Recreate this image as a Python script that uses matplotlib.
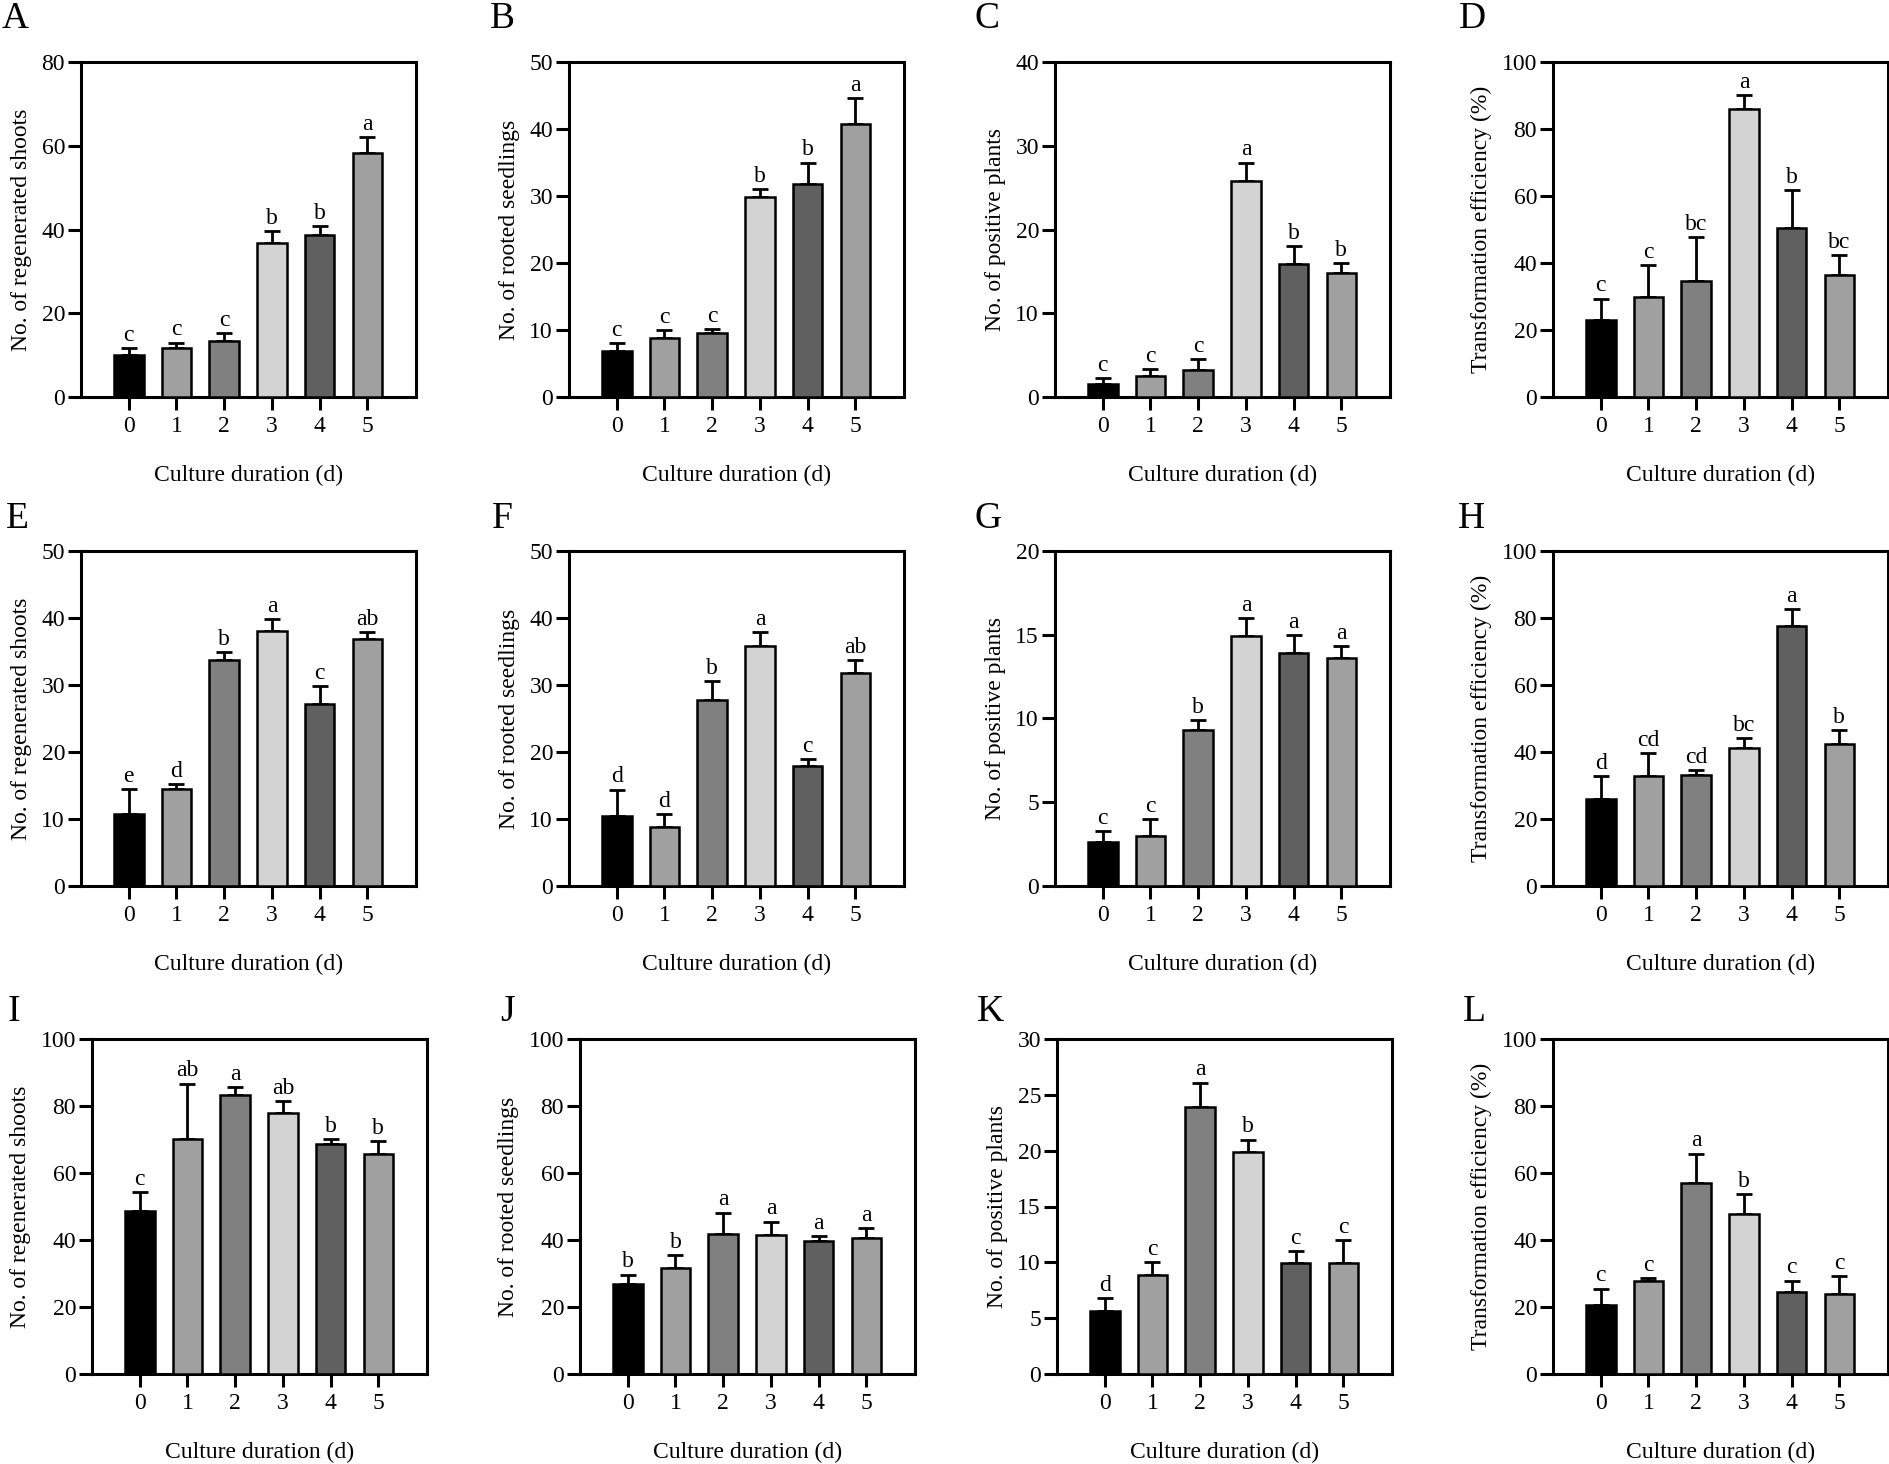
import matplotlib
matplotlib.use("Agg")
import matplotlib.pyplot as plt

# -------------------- figure geometry (pixels of the target image)
W, H = 1889, 1464
DPI = 100

DAYS = [0, 1, 2, 3, 4, 5]
BAR_COLORS = ["#000000", "#a0a0a0", "#808080", "#d3d3d3", "#606060", "#a0a0a0"]
XLABEL = "Culture duration (d)"

# -------------------- data (mean, SD, significance letters)
# row 1
shoots_A = [10.0, 11.8, 13.4, 36.7, 38.7, 58.3]
shoots_A_sd = [1.8, 1.2, 1.9, 3.0, 2.2, 3.8]
shoots_A_sig = ["c", "c", "c", "b", "b", "a"]

rooted_B = [6.9, 8.8, 9.6, 29.8, 31.8, 40.8]
rooted_B_sd = [1.1, 1.2, 0.6, 1.2, 3.2, 3.8]
rooted_B_sig = ["c", "c", "c", "b", "b", "a"]

positive_C = [1.5, 2.5, 3.2, 25.8, 15.9, 14.8]
positive_C_sd = [0.8, 0.8, 1.3, 2.2, 2.1, 1.2]
positive_C_sig = ["c", "c", "c", "a", "b", "b"]

eff_D = [23.1, 30.0, 34.5, 86.1, 50.3, 36.5]
eff_D_sd = [6.3, 9.3, 13.3, 4.0, 11.5, 5.8]
eff_D_sig = ["c", "c", "bc", "a", "b", "bc"]

# row 2
shoots_E = [10.8, 14.5, 33.8, 38.1, 27.1, 36.8]
shoots_E_sd = [3.7, 0.7, 1.1, 1.8, 2.7, 1.1]
shoots_E_sig = ["e", "d", "b", "a", "c", "ab"]

rooted_F = [10.5, 8.8, 27.8, 35.8, 17.9, 31.8]
rooted_F_sd = [3.9, 1.9, 2.8, 2.1, 1.1, 1.9]
rooted_F_sig = ["d", "d", "b", "a", "c", "ab"]

positive_G = [2.6, 3.0, 9.3, 14.95, 13.9, 13.6]
positive_G_sd = [0.66, 1.0, 0.63, 1.05, 1.1, 0.7]
positive_G_sig = ["c", "c", "b", "a", "a", "a"]

eff_H = [25.9, 32.8, 33.2, 41.3, 77.6, 42.3]
eff_H_sd = [6.9, 6.9, 1.4, 3.0, 5.2, 4.2]
eff_H_sig = ["d", "cd", "cd", "bc", "a", "b"]

# row 3
shoots_I = [48.7, 70.1, 83.4, 77.8, 68.6, 65.6]
shoots_I_sd = [5.5, 16.6, 2.3, 3.8, 1.5, 4.0]
shoots_I_sig = ["c", "ab", "a", "ab", "b", "b"]

rooted_J = [27.0, 31.5, 41.9, 41.5, 39.7, 40.5]
rooted_J_sd = [2.7, 4.0, 6.3, 4.0, 1.4, 3.0]
rooted_J_sig = ["b", "b", "a", "a", "a", "a"]

positive_K = [5.6, 8.9, 23.9, 19.9, 9.9, 9.9]
positive_K_sd = [1.2, 1.1, 2.2, 1.1, 1.1, 2.1]
positive_K_sig = ["d", "c", "a", "b", "c", "c"]

eff_L = [20.5, 27.9, 56.9, 47.7, 24.5, 24.0]
eff_L_sd = [5.0, 0.8, 8.9, 5.9, 3.4, 5.2]
eff_L_sig = ["c", "c", "a", "b", "c", "c"]

YLAB_SHOOTS = "No. of regenerated shoots"
YLAB_ROOTED = "No. of rooted seedlings"
YLAB_POS = "No. of positive plants"
YLAB_EFF = "Transformation efficiency (%)"

# letter, values, sd, sig, ylabel, ymax, ystep, box-left px, box-top px, letter x px, letter baseline px
PANELS = [
    ("A", shoots_A, shoots_A_sd, shoots_A_sig, YLAB_SHOOTS, 80, 20, 81, 62, 2, 28),
    ("B", rooted_B, rooted_B_sd, rooted_B_sig, YLAB_ROOTED, 50, 10, 569, 62, 490, 28),
    ("C", positive_C, positive_C_sd, positive_C_sig, YLAB_POS, 40, 10, 1055, 62, 975, 28),
    ("D", eff_D, eff_D_sd, eff_D_sig, YLAB_EFF, 100, 20, 1553, 62, 1459, 28),
    ("E", shoots_E, shoots_E_sd, shoots_E_sig, YLAB_SHOOTS, 50, 10, 81, 551, 6, 528),
    ("F", rooted_F, rooted_F_sd, rooted_F_sig, YLAB_ROOTED, 50, 10, 569, 551, 492, 528),
    ("G", positive_G, positive_G_sd, positive_G_sig, YLAB_POS, 20, 5, 1055, 551, 975, 528),
    ("H", eff_H, eff_H_sd, eff_H_sig, YLAB_EFF, 100, 20, 1553, 551, 1458, 528),
    ("I", shoots_I, shoots_I_sd, shoots_I_sig, YLAB_SHOOTS, 100, 20, 92, 1039, 8, 1021),
    ("J", rooted_J, rooted_J_sd, rooted_J_sig, YLAB_ROOTED, 100, 20, 580, 1039, 500, 1021),
    ("K", positive_K, positive_K_sd, positive_K_sig, YLAB_POS, 30, 5, 1057, 1039, 977, 1021),
    ("L", eff_L, eff_L_sd, eff_L_sig, YLAB_EFF, 100, 20, 1553, 1039, 1463, 1021),
]
BOX_W, BOX_H = 335, 335

# -------------------- style
plt.rcParams.update({
    "font.family": ["Liberation Serif", "DejaVu Serif"],
    "font.size": 17,
    "axes.linewidth": 2.2,
    "xtick.major.width": 2.2,
    "ytick.major.width": 2.2,
    "xtick.major.size": 9.5,
    "ytick.major.size": 9.5,
    "xtick.major.pad": 4.5,
    "ytick.major.pad": 2,
})

fig = plt.figure(figsize=(W / DPI, H / DPI), dpi=DPI)

for (tag, vals, sds, sig, ylab, ymax, ystep, bx, by, lx, ly) in PANELS:
    ax = fig.add_axes([bx / W, 1 - (by + BOX_H) / H, BOX_W / W, BOX_H / H])
    ax.bar(DAYS, vals, width=0.62, color=BAR_COLORS, edgecolor="black",
           linewidth=1.8, zorder=3)
    ax.errorbar(DAYS, vals, yerr=[[0] * len(vals), sds], fmt="none",
                ecolor="black", elinewidth=2.0, capsize=6, capthick=2.0, zorder=2)
    for x, v, s, t in zip(DAYS, vals, sds, sig):
        ax.annotate(t, (x, v + s), xytext=(0, 1.5), textcoords="offset points",
                    ha="center", va="bottom", fontsize=17)

    ax.set_xlim(-1, 6.02)
    ax.set_ylim(0, ymax)
    ax.set_xticks(DAYS)
    ax.set_yticks(range(0, ymax + 1, ystep))
    ax.set_ylabel(ylab, labelpad=7)
    ax.set_xlabel(XLABEL, labelpad=20)

    fig.text(lx / W, 1 - ly / H, tag, fontsize=27, ha="left", va="baseline")

fig.savefig("out.png", dpi=DPI)
